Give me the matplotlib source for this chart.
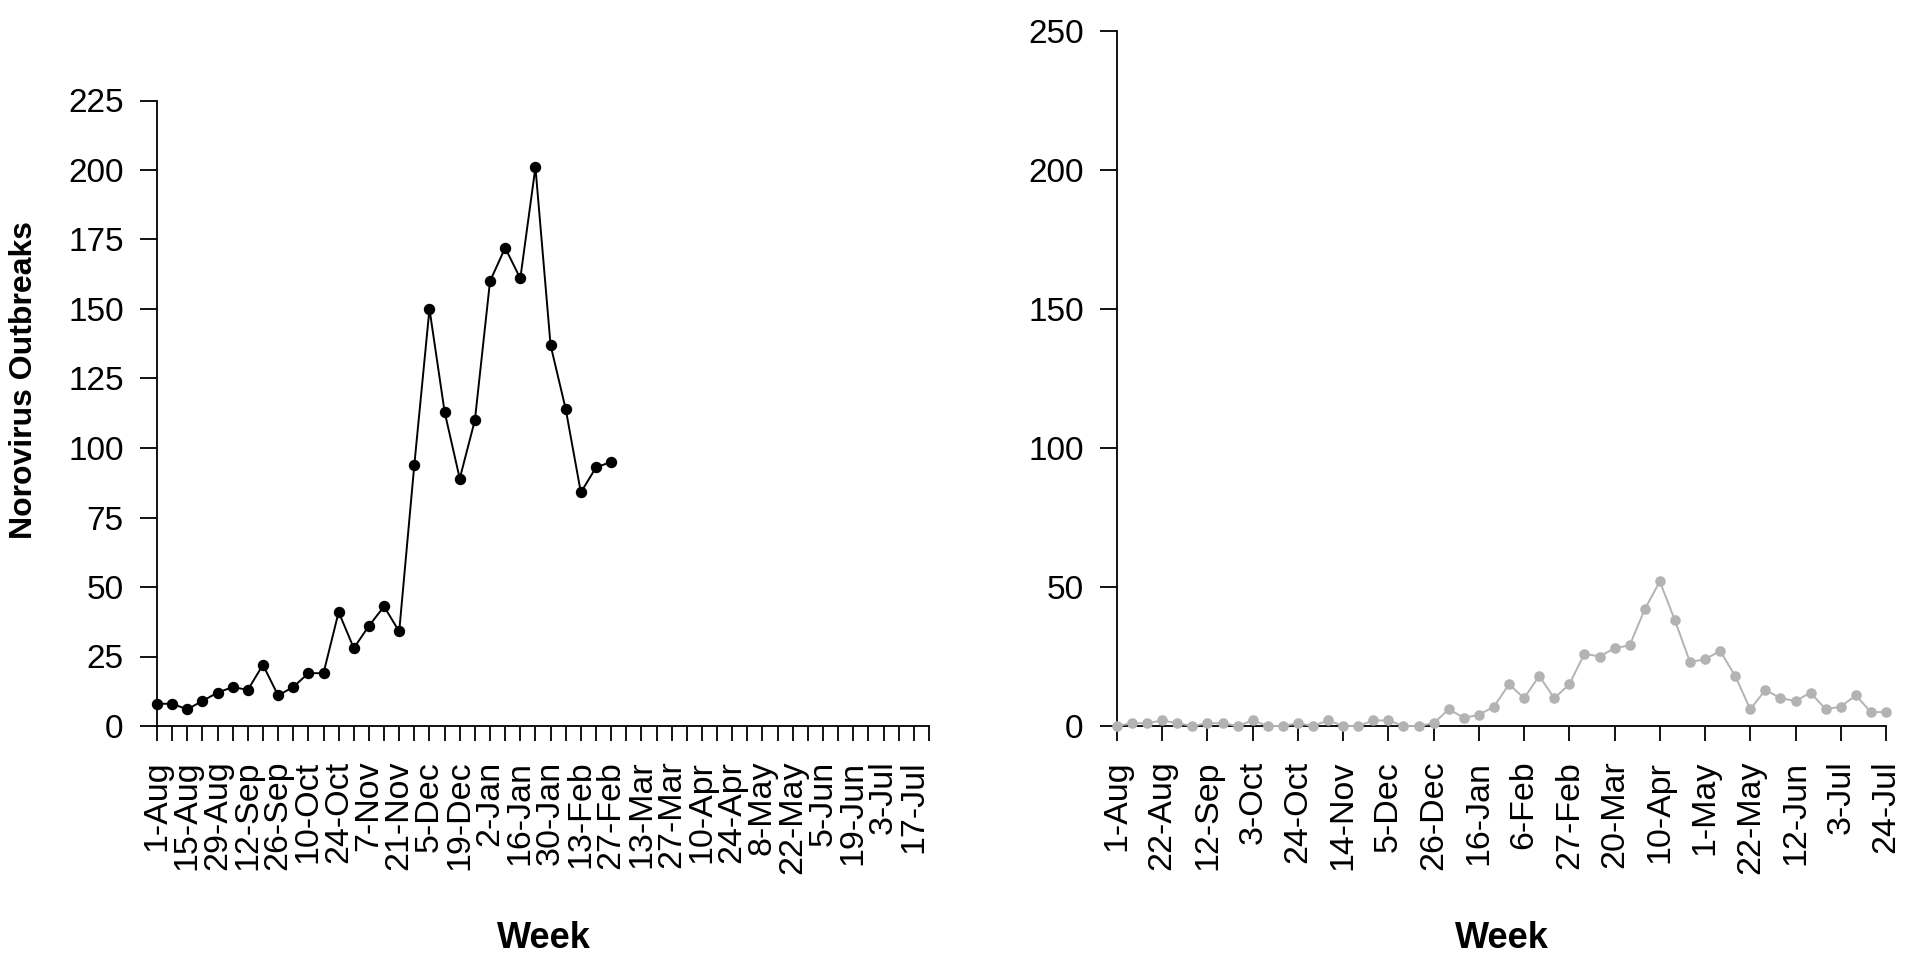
import numpy as np
import matplotlib
matplotlib.use("Agg")
import matplotlib.pyplot as plt

# ---- data ----
left_tick_labels = ["1-Aug", "15-Aug", "29-Aug", "12-Sep", "26-Sep", "10-Oct", "24-Oct",
                    "7-Nov", "21-Nov", "5-Dec", "19-Dec", "2-Jan", "16-Jan", "30-Jan",
                    "13-Feb", "27-Feb", "13-Mar", "27-Mar", "10-Apr", "24-Apr", "8-May",
                    "22-May", "5-Jun", "19-Jun", "3-Jul", "17-Jul"]
right_tick_labels = ["1-Aug", "22-Aug", "12-Sep", "3-Oct", "24-Oct", "14-Nov", "5-Dec",
                     "26-Dec", "16-Jan", "6-Feb", "27-Feb", "20-Mar", "10-Apr", "1-May",
                     "22-May", "12-Jun", "3-Jul", "24-Jul"]
left_outbreaks = [8, 8, 6, 9, 12, 14, 13, 22, 11, 14, 19, 19, 41, 28, 36, 43, 34,
                  94, 150, 113, 89, 110, 160, 172, 161, 201, 137, 114, 84, 93, 95]
right_outbreaks = [0, 1, 1, 2, 1, 0, 1, 1, 0, 2, 0, 0, 1, 0, 2, 0, 0, 2, 2, 0, 0, 1,
                   6, 3, 4, 7, 15, 10, 18, 10, 15, 26, 25, 28, 29, 42, 52, 38, 23, 24,
                   27, 18, 6, 13, 10, 9, 12, 6, 7, 11, 5, 5]
n_weeks = 52
left_yticks = [0, 25, 50, 75, 100, 125, 150, 175, 200, 225]
right_yticks = [0, 50, 100, 150, 200, 250]

NARROW = ["Liberation Sans Narrow", "Liberation Sans", "DejaVu Sans"]
REG = ["Liberation Sans", "DejaVu Sans"]

fig = plt.figure(figsize=(19.2, 9.6), dpi=100)
axL = fig.add_axes([157 / 1920, 1 - 726 / 960, (929 - 157) / 1920, (726 - 31) / 960])
axR = fig.add_axes([1117 / 1920, 1 - 726 / 960, (1886 - 1117) / 1920, (726 - 31) / 960])

weeks = np.arange(n_weeks)

axL.plot(weeks[:len(left_outbreaks)], left_outbreaks, color="black", lw=1.4,
         marker="o", ms=7.2, clip_on=False, zorder=3)
axR.plot(weeks[:len(right_outbreaks)], right_outbreaks, color="#b3b3b3", lw=1.4,
         marker="o", ms=6.6, clip_on=False, zorder=3)

for ax, yt in ((axL, left_yticks), (axR, right_yticks)):
    ax.set_xlim(0, n_weeks - 1)
    ax.set_ylim(0, 250)
    for s in ("top", "right"):
        ax.spines[s].set_visible(False)
    for s in ("left", "bottom"):
        ax.spines[s].set_linewidth(1.3)
    ax.spines["left"].set_bounds(yt[0], yt[-1])
    ax.set_yticks(yt)
    ax.set_yticklabels([str(v) for v in yt], fontfamily=NARROW, fontsize=24)
    ax.tick_params(axis="y", length=12, width=1.3, pad=12)
    ax.tick_params(axis="x", length=11, width=1.3, pad=14)
    ax.patch.set_visible(False)

# left x: weekly ticks, label every 2nd week
axL.set_xticks(weeks)
lab_left = [""] * n_weeks
for i, t in enumerate(left_tick_labels):
    lab_left[2 * i] = t
axL.set_xticklabels(lab_left, rotation=90, fontfamily=REG, fontsize=24.5, va="top", ha="center")

# right x: ticks every 3 weeks
rpos = np.arange(0, n_weeks, 3)
axR.set_xticks(rpos)
axR.set_xticklabels(right_tick_labels, rotation=90, fontfamily=REG, fontsize=24.5, va="top", ha="center")

fig.text(24 / 1920, 1 - 380 / 960, "Norovirus Outbreaks", rotation=90, ha="center",
         va="center", fontfamily=REG, fontweight="bold", fontsize=23)
fig.text(544 / 1920, 1 - 938 / 960, "Week", ha="center", va="center",
         fontfamily=NARROW, fontweight="bold", fontsize=26)
fig.text(1502 / 1920, 1 - 938 / 960, "Week", ha="center", va="center",
         fontfamily=NARROW, fontweight="bold", fontsize=26)

fig.savefig("out.png", dpi=100, facecolor="white")
